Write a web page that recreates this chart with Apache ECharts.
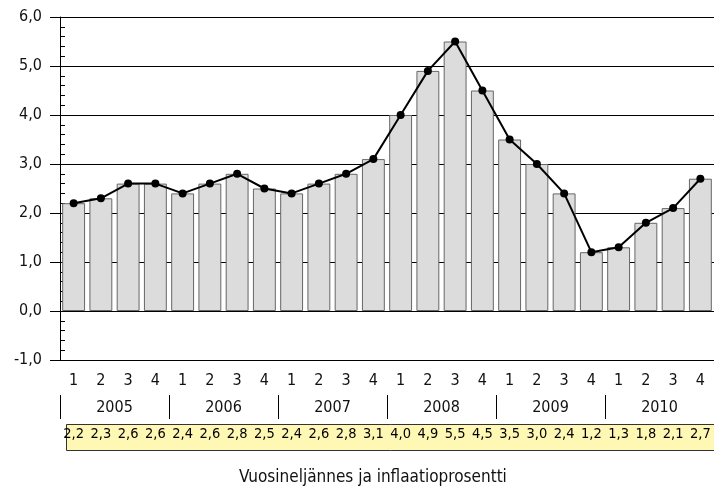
<!DOCTYPE html>
<html>
<head>
<meta charset="utf-8">
<script src="https://cdn.jsdelivr.net/npm/echarts@6/dist/echarts.min.js"></script>
<style>
html,body{margin:0;padding:0;background:#fff;}
#chart{width:714px;height:488px;}
</style>
</head>
<body>
<div id="chart"></div>
<script>
// ---- data ----
var quarters = ['1','2','3','4','1','2','3','4','1','2','3','4','1','2','3','4','1','2','3','4','1','2','3','4'];
var years = ['2005','2006','2007','2008','2009','2010'];
var inflation = [2.2, 2.3, 2.6, 2.6, 2.4, 2.6, 2.8, 2.5, 2.4, 2.6, 2.8, 3.1, 4.0, 4.9, 5.5, 4.5, 3.5, 3.0, 2.4, 1.2, 1.3, 1.8, 2.1, 2.7];
var yTicks = { min: -1, max: 6, interval: 1 };
var titleText = 'Vuosineljännes ja inflaatioprosentti';

function fmt(v){ return Number(v).toFixed(1).replace('.', ','); }
var tableLabels = inflation.map(fmt);

var FONT = '"DejaVu Sans Condensed", "DejaVu Sans", sans-serif';

var chart = echarts.init(document.getElementById('chart'), null, {renderer:'canvas'});
chart.setOption({
  animation: false,
  backgroundColor: '#ffffff',
  textStyle: { fontFamily: FONT },
  title: {
    text: titleText,
    left: 234, top: 464,
    textStyle: { fontFamily: FONT, fontSize: 17, fontWeight: 'normal', color: '#111' }
  },
  grid: { left: 60, right: 0, top: 17, height: 343, containLabel: false },
  graphic: [{
    type: 'rect', z: -10,
    shape: { x: 66.5, y: 424.5, width: 660, height: 26 },
    style: { fill: '#fff8b4', stroke: '#333', lineWidth: 1 }
  }],
  xAxis: [{
    type: 'category', data: quarters, position: 'bottom',
    axisLine: { show: false }, axisTick: { show: false },
    axisLabel: { interval: 0, margin: 13, fontSize: 16, color: '#111', fontFamily: FONT },
    splitLine: { show: false }
  }, {
    type: 'category', data: years, position: 'bottom', offset: 35,
    axisLine: { show: false },
    axisTick: { show: true, length: 24, interval: 0, lineStyle: { color: '#000', width: 1 } },
    axisLabel: { interval: 0, margin: 5, fontSize: 16, color: '#111', fontFamily: FONT },
    splitLine: { show: false }
  }, {
    type: 'category', data: tableLabels, position: 'bottom', offset: 0, z: 20,
    axisLine: { show: false }, axisTick: { show: false },
    axisLabel: { interval: 0, margin: 67, fontSize: 14.5, color: '#000', fontFamily: FONT },
    splitLine: { show: false }
  }],
  yAxis: {
    type: 'value', min: yTicks.min, max: yTicks.max, interval: yTicks.interval,
    axisLine: { show: true, lineStyle: { color: '#000', width: 1 } },
    axisTick: { show: true, length: 10, lineStyle: { color: '#000' } },
    minorTick: { show: true, splitNumber: 5, length: -5, lineStyle: { color: '#000' } },
    axisLabel: { margin: 18, fontSize: 16, color: '#111', fontFamily: FONT, formatter: function(v){ return fmt(v); } },
    splitLine: { show: true, lineStyle: { color: '#000', width: 1 } }
  },
  series: [{
    type: 'bar', data: inflation, xAxisIndex: 0,
    barCategoryGap: '16%',
    itemStyle: { color: '#dcdcdc', borderColor: '#666666', borderWidth: 1 }
  }, {
    type: 'line', data: inflation, xAxisIndex: 0,
    symbol: 'circle', symbolSize: 8,
    lineStyle: { color: '#000', width: 2 },
    itemStyle: { color: '#000' }
  }]
});
</script>
</body>
</html>
